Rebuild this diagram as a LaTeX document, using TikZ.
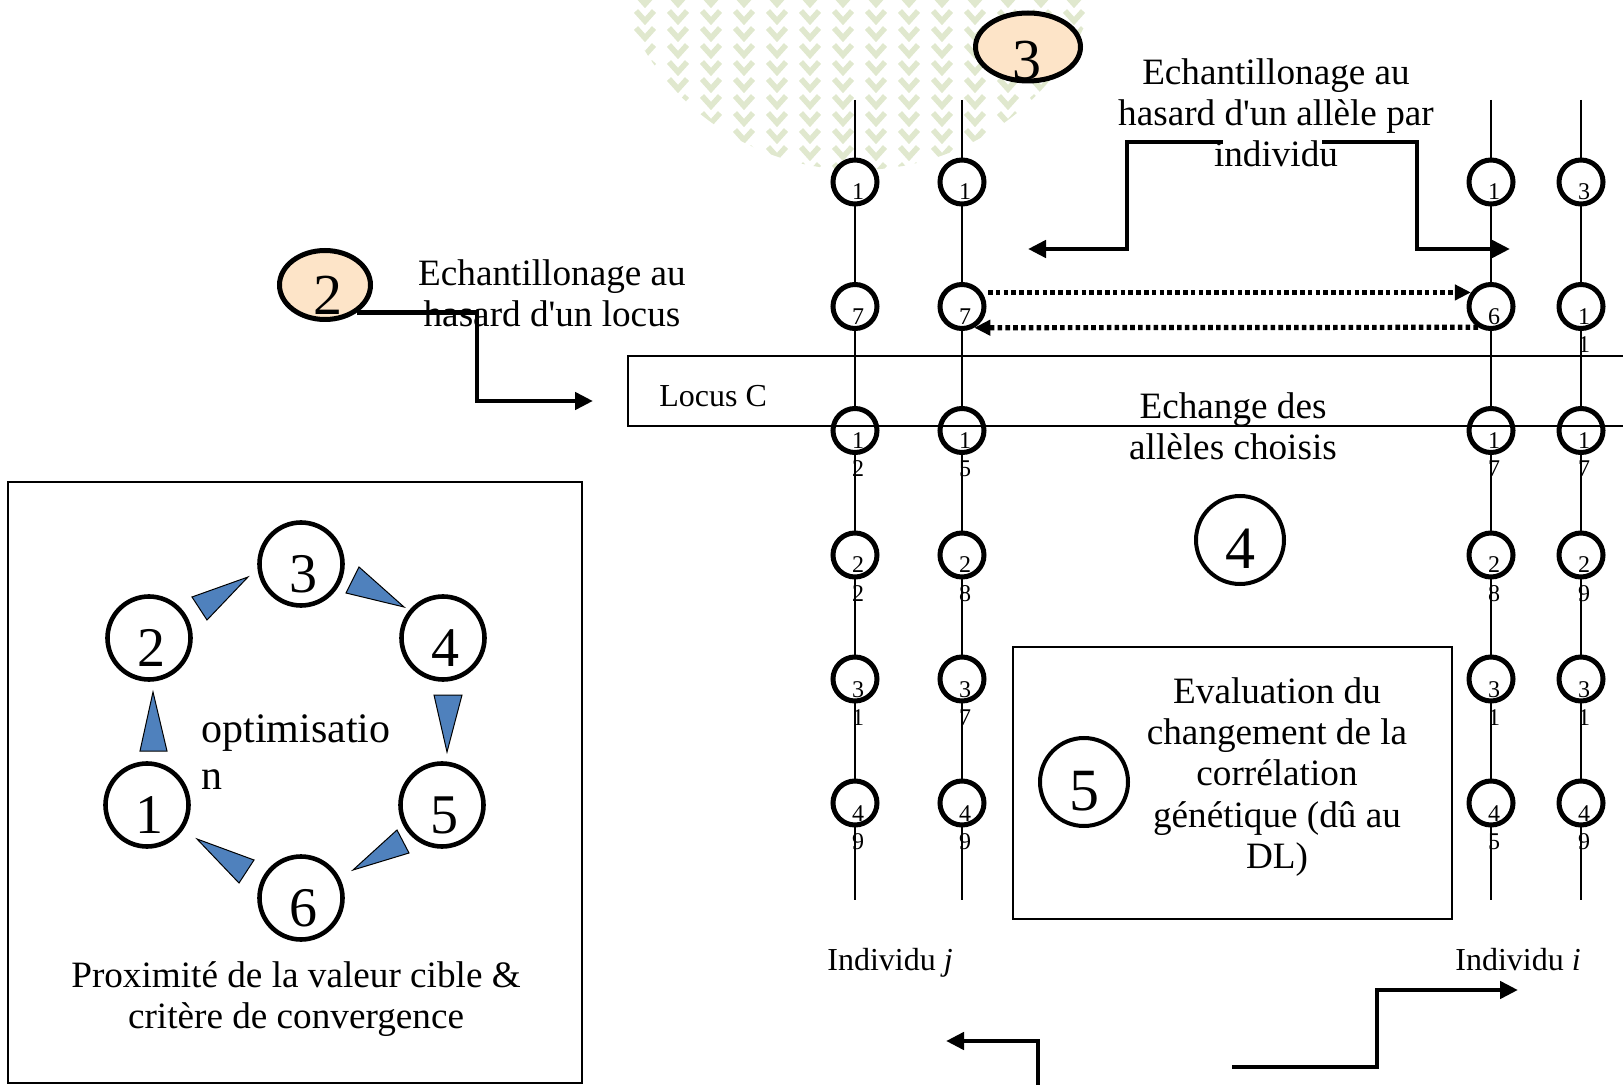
\documentclass[tikz,border=0pt]{standalone}
\usepackage{fontspec}
\setmainfont{Liberation Serif}
\usetikzlibrary{shapes.geometric,arrows.meta}
\definecolor{peach}{RGB}{253,228,200}
\definecolor{triblue}{RGB}{79,129,189}
\definecolor{patgreen}{RGB}{224,232,206}
\newcommand\allele[5]{%
  \node[allele] (#1) at (#2,#3) {};
  \node[lbl] (#1t) at ([xshift=1.5pt,yshift=-9pt]#1.center) {#4};
  \def\tmpsecond{#5}\ifx\tmpsecond\empty\else
  \node[lbl] (#1u) at ([xshift=1.5pt,yshift=-23.25pt]#1.center) {#5};\fi}
\newcommand\ap{\textquotesingle}
\begin{document}
\begin{tikzpicture}[x=0.5pt,y=-0.5pt,
  allele/.style={circle,draw,line width=2.5pt,fill=white,minimum size=22pt,inner sep=0pt},
  chromo/.style={line width=1pt},
  lbl/.style={font=\fontsize{12}{14.5}\selectfont,inner sep=0pt,anchor=base},
  cyc/.style={circle,draw,line width=2.3pt,minimum size=41.5pt,inner sep=0pt},
  cycR/.style={circle,draw,line width=2pt,minimum size=44pt,inner sep=0pt},
  cycnum/.style={font=\fontsize{28}{30}\selectfont,inner sep=0pt,anchor=base},
  bignum/.style={font=\fontsize{30}{32}\selectfont,inner sep=0pt,anchor=base},
  tri/.style={fill=triblue,draw=black,line width=0.5pt},
  bigtxt/.style={font=\fontsize{18.6}{20.6}\selectfont,align=center,inner sep=0pt},
  midtxt/.style={font=\fontsize{16}{18}\selectfont,inner sep=0pt},
  oval/.style={ellipse,draw,line width=2.5pt,fill=peach,inner sep=0pt},
  conn/.style={line width=2.4pt,-{Triangle[length=9pt,width=8.5pt]}},
  dotconn/.style={line width=2.6pt,dash pattern=on 2.3pt off 1.6pt,-{Triangle[length=8pt,width=7.5pt]}},
  boxed/.style={draw,inner sep=0pt}]
\useasboundingbox (0,0) rectangle (1623,1085);
% background pattern
\begin{scope}
\clip (858,-80) circle [radius=125pt];
\foreach \x in {612,645,...,1110}
  \foreach \y in {-6,11,...,180}
    \draw[patgreen,line width=2.8pt] (\x-9,\y) -- (\x,\y+10) -- (\x+9,\y);
\end{scope}
% chromosomes
\foreach \c/\x in {a/855,b/962,c/1491,d/1581}{
  \coordinate (top\c) at (\x,100);
  \coordinate (bot\c) at (\x,900);
  \draw[chromo] (top\c) -- (bot\c);
}
% alleles
\allele{a1}{855}{182}{1}{}
\allele{a2}{855}{306.5}{7}{}
\allele{a3}{855}{430.5}{1}{2}
\allele{a4}{855}{555}{2}{2}
\allele{a5}{855}{679}{3}{1}
\allele{a6}{855}{803}{4}{9}
\allele{b1}{962}{182}{1}{}
\allele{b2}{962}{306.5}{7}{}
\allele{b3}{962}{430.5}{1}{5}
\allele{b4}{962}{555}{2}{8}
\allele{b5}{962}{679}{3}{7}
\allele{b6}{962}{803}{4}{9}
\allele{c1}{1491}{182}{1}{}
\allele{c2}{1491}{306.5}{6}{}
\allele{c3}{1491}{430.5}{1}{7}
\allele{c4}{1491}{555}{2}{8}
\allele{c5}{1491}{679}{3}{1}
\allele{c6}{1491}{803}{4}{5}
\allele{d1}{1581}{182}{3}{}
\allele{d2}{1581}{306.5}{1}{1}
\allele{d3}{1581}{430.5}{1}{7}
\allele{d4}{1581}{555}{2}{9}
\allele{d5}{1581}{679}{3}{1}
\allele{d6}{1581}{803}{4}{9}
% locus band
\draw[line width=0.75pt] (1640,356) -- (628,356) -- (628,426) -- (1640,426);
\node[midtxt,anchor=base west] (locus) at (659,407) {Locus C};
% step 2
\node[oval,minimum width=45.5pt,minimum height=34.5pt] (e2) at (325,285) {};
\node[font=\fontsize{29}{30}\selectfont,anchor=base,inner sep=0pt] (e2t) at (328,315) {2};
\node[bigtxt] (tA) at (552,293) {Echantillonage au\\hasard d\ap un locus};
\coordinate (a2end) at (593,401);
\draw[conn] (e2.320) -| (477,401) -- (a2end);
% step 3
\node[oval,minimum width=52.5pt,minimum height=34pt] (e3) at (1028,47) {};
\node[font=\fontsize{29}{30}\selectfont,anchor=base,inner sep=0pt] (e3t) at (1027,80) {3};
\node[bigtxt] (tB) at (1276,113) {Echantillonage au\\hasard d\ap un allèle par\\individu};
\coordinate (bl) at (1223,142);
\coordinate (bll) at (1028,249);
\draw[conn] (bl) -- (1127,142) -- (1127,249) -- (bll);
\coordinate (br) at (1322,142);
\coordinate (brr) at (1510,249);
\draw[conn] (br) -- (1417,142) -- (1417,249) -- (brr);
% exchange
\draw[dotconn] ([xshift=3pt]b2.35) -- (c2.145);
\draw[dotconn] (c2.238) -- (b2.-60);
\node[bigtxt] (tC) at (1233,426) {Echange des\\allèles choisis};
% step 4
\node[cycR] (r4) at (1240,540) {};
\node[bignum] (r4t) at ([yshift=-14pt]r4.center) {4};
% step 5
\node[boxed,line width=0.85pt,minimum width=219.5pt,minimum height=136pt] (box5) at (1232.5,783) {};
\node[cycR] (r5) at (1084,782) {};
\node[bignum] (r5t) at ([yshift=-14pt]r5.center) {5};
\node[bigtxt] (tD) at (1277,777) {Evaluation du\\changement de la\\corrélation\\génétique (dû au\\DL)};
% individuals
\node[midtxt,anchor=base] (indj) at (890,970) {Individu \textit{j}};
\node[midtxt,anchor=base] (indi) at (1518,970) {Individu \textit{i}};
% bottom arrows
\coordinate (bl1) at (1038,1090);
\coordinate (bl2) at (946,1041);
\draw[conn] (bl1) -- (1038,1041) -- (bl2);
\coordinate (br1) at (1232,1067);
\coordinate (br2) at (1518,990);
\draw[conn] (br1) -- (1377,1067) -- (1377,990) -- (br2);
% step 6 box
\node[boxed,line width=1pt,minimum width=287pt,minimum height=300.5pt] (lbox) at (295,782.5) {};
\node[cyc] (k1) at (147,805) {};
\node[cyc] (k2) at (149,638) {};
\node[cyc] (k3) at (301,564) {};
\node[cyc] (k4) at (443,638) {};
\node[cyc] (k5) at (442,805) {};
\node[cyc] (k6) at (301,898) {};
\foreach \k in {1,...,6}{\node[cycnum] (k\k t) at ([xshift=1pt,yshift=-14pt]k\k.center) {\k};}
\draw[tri] (153,692) -- (140,751) -- (167,751) -- cycle;
\draw[tri] (192,597) -- (248,577) -- (207,620) -- cycle;
\draw[tri] (359,567) -- (346,593) -- (404,607) -- cycle;
\draw[tri] (434,695) -- (462,695) -- (447,752) -- cycle;
\draw[tri] (397,830) -- (409,853) -- (353,870) -- cycle;
\draw[tri] (197,839) -- (254,860) -- (239,883) -- cycle;
\node[font=\fontsize{21}{23.5}\selectfont,align=left,inner sep=0pt,anchor=west] (opt) at (201,752) {optimisatio\\n};
\node[bigtxt] (tE) at (296,999) {Proximité de la valeur cible \&\\critère de convergence};
\end{tikzpicture}
\end{document}
